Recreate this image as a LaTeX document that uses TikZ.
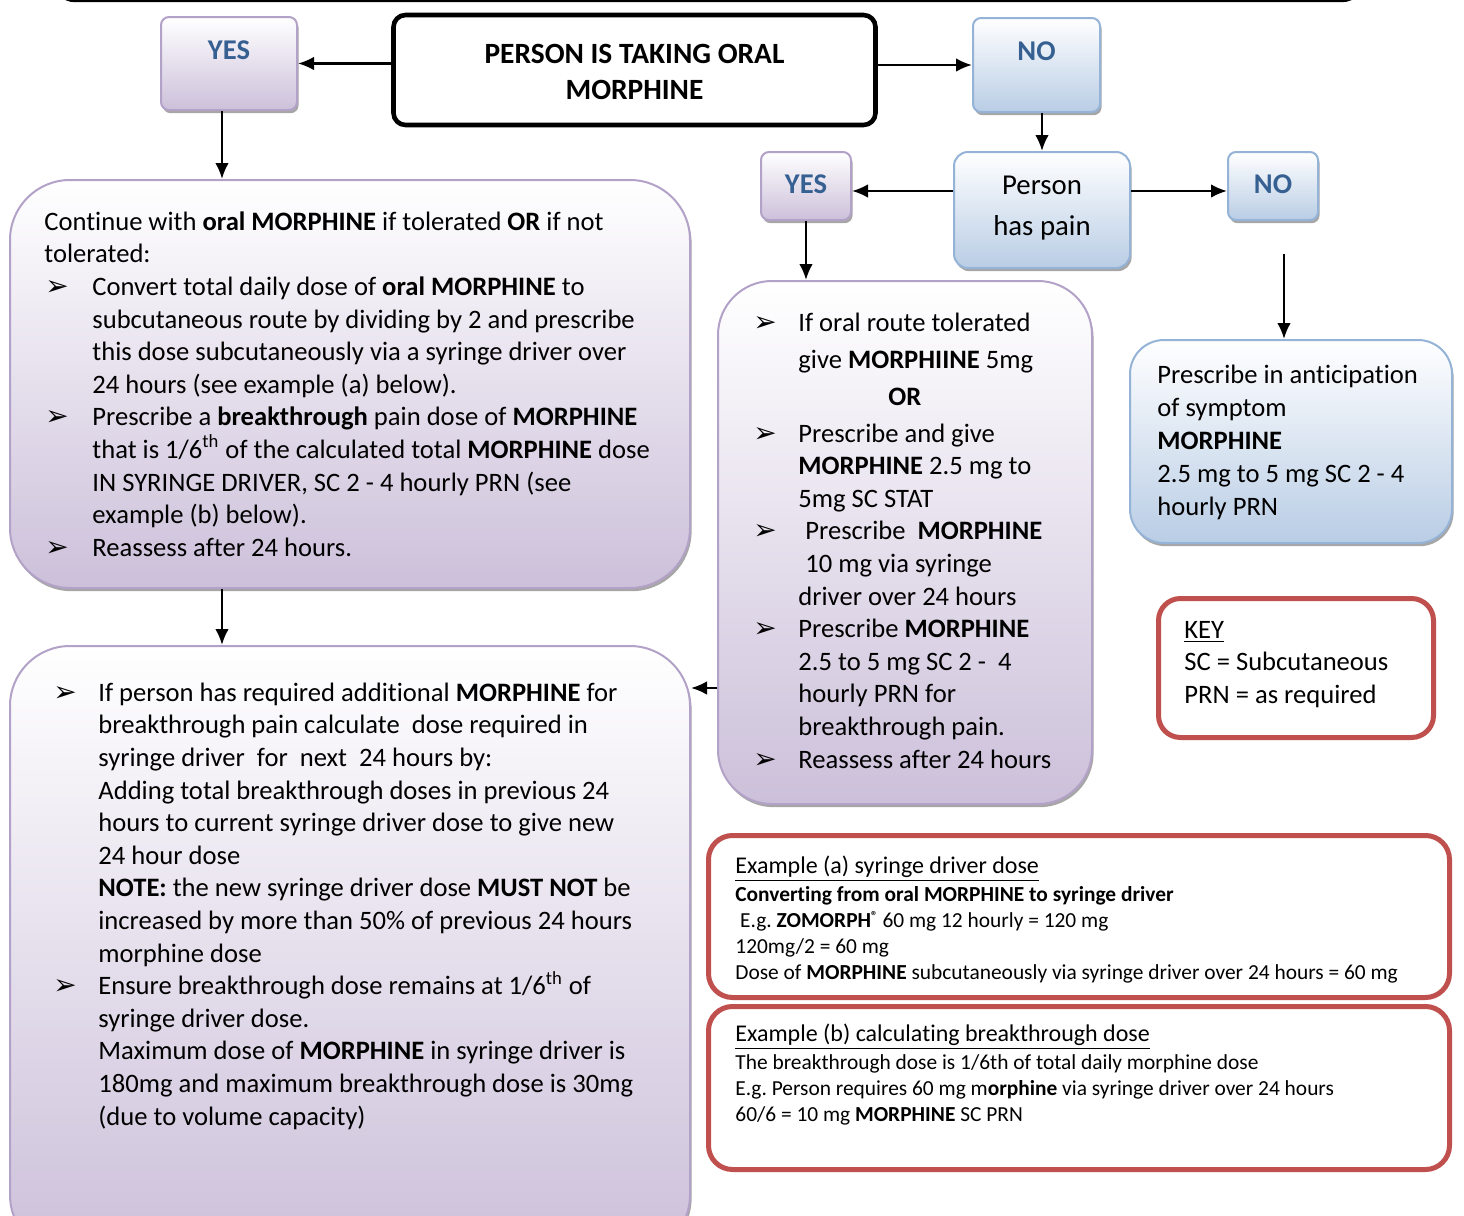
\documentclass[tikz,border=0pt]{standalone}
\usepackage{fontspec}
\setmainfont{Carlito}[Ligatures=NoCommon]
\newfontfamily\dejavu{DejaVu Sans}
\usetikzlibrary{arrows.meta,shadows}
\definecolor{purpB}{RGB}{179,162,199}
\definecolor{purpF}{RGB}{204,192,218}
\definecolor{blueB}{RGB}{149,179,215}
\definecolor{blueF}{RGB}{185,205,229}
\definecolor{redB}{RGB}{192,80,77}
\definecolor{ynblue}{RGB}{55,96,146}
\newcommand\arrowglyph{{\dejavu\fontsize{14}{14}\selectfont ➢}}
\newcommand\myb[1]{\makebox[#1][l]{\hspace{0.5pt}\arrowglyph}}
\newcommand\myi[1]{\hspace*{#1}}
\newcommand\regmark{\raisebox{3.5pt}{\fontsize{6.5}{6.5}\selectfont\bfseries ®}}
\frenchspacing
\tikzset{
  shad/.style={drop shadow={shadow xshift=0.8pt,shadow yshift=-1.6pt,opacity=0.35,fill=black}},
  pbox/.style={draw=purpB, line width=1pt, top color=white, bottom color=purpF, shad},
  bbox/.style={draw=blueB, line width=1pt, top color=white, bottom color=blueF, shad},
  rbox/.style={draw=redB, line width=2.5pt, fill=white},
  tbox/.style={draw=black, line width=2.3pt, rounded corners=6pt, fill=white},
  arr/.style={line width=1.1pt, -{Latex[length=8pt,width=6.8pt]}},
  yn/.style={font=\fontsize{14.3}{17}\selectfont\bfseries, text=ynblue},
  body/.style={font=\fontsize{13.3}{16.3}\selectfont, align=left, inner sep=0pt, anchor=west},
  exbody/.style={font=\fontsize{10.7}{13}\selectfont, align=left, inner sep=0pt, anchor=west},
}
\begin{document}
\begin{tikzpicture}[x=0.5pt,y=-0.5pt]
\useasboundingbox (0,0) rectangle (1464,1216);
\begin{scope}
\clip (0,0) rectangle (1464,1216);
% partial frame at top
\draw[line width=2.2pt, rounded corners=10pt] (55,-40) -- (55,0) -- (1362,0) -- (1362,-40);

% boxes
\node[pbox, rounded corners=4pt, minimum width=68pt, minimum height=46.5pt, yn] (yes1) at (229,63.5) {\raisebox{2.15pt}[0pt][0pt]{YES}};
\node[tbox, minimum width=241pt, minimum height=55pt] (title) at (634.5,70) {};
\node[font=\fontsize{14.7}{18}\selectfont\bfseries, align=center, inner sep=0pt] (titletext) at (634.5,72) {PERSON IS TAKING ORAL\\MORPHINE};
\node[bbox, rounded corners=4pt, minimum width=63.5pt, minimum height=47pt, yn] (no1) at (1036.5,65) {\raisebox{2.4pt}[0pt][0pt]{NO}};
\node[bbox, rounded corners=7pt, minimum width=88pt, minimum height=58pt] (pain) at (1042,210) {};
\node[font=\fontsize{14.4}{20.5}\selectfont, align=center, inner sep=0pt] (paintext) at (1042,208) {Person\\has pain};
\node[pbox, rounded corners=4pt, minimum width=45pt, minimum height=34pt, yn] (yes2) at (806,186) {\raisebox{-3.6pt}[0pt][0pt]{YES}};
\node[bbox, rounded corners=4pt, minimum width=45pt, minimum height=34pt, yn] (no2) at (1273,186) {\raisebox{-3.6pt}[0pt][0pt]{NO}};

\node[pbox, rounded corners=30pt, minimum width=340pt, minimum height=204pt] (left1) at (350,384) {};
\node[body] (left1text) at (44,384) {%
Continue with \textbf{oral MORPHINE} if tolerated \textbf{OR} if not\\
tolerated:\\
\myb{24pt}Convert total daily dose of \textbf{oral MORPHINE} to\\
\myi{24pt}subcutaneous route by dividing by 2 and prescribe\\
\myi{24pt}this dose subcutaneously via a syringe driver over\\
\myi{24pt}24 hours (see example (a) below).\\
\myb{24pt}Prescribe a \textbf{breakthrough} pain dose of \textbf{MORPHINE}\\
\myi{24pt}that is 1/6\textsuperscript{th} of the calculated total \textbf{MORPHINE} dose\\
\myi{24pt}IN SYRINGE DRIVER, SC 2 - 4 hourly PRN (see\\
\myi{24pt}example (b) below).\\
\myb{24pt}Reassess after 24 hours.};

\node[pbox, rounded corners=30pt, minimum width=340pt, minimum height=304.5pt] (left2) at (350,950.5) {};
\node[body] (left2text) at (52,906) {%
\myb{23pt}If person has required additional \textbf{MORPHINE} for\\
\myi{23pt}breakthrough pain calculate\ \ dose required in\\
\myi{23pt}syringe driver\ \ for\ \ next\ \ 24 hours by:\\
\myi{23pt}Adding total breakthrough doses in previous 24\\
\myi{23pt}hours to current syringe driver dose to give new\\
\myi{23pt}24 hour dose\\
\myi{23pt}\textbf{NOTE:} the new syringe driver dose \textbf{MUST NOT} be\\
\myi{23pt}increased by more than 50\% of previous 24 hours\\
\myi{23pt}morphine dose\\
\myb{23pt}Ensure breakthrough dose remains at 1/6\textsuperscript{th} of\\
\myi{23pt}syringe driver dose.\\
\myi{23pt}Maximum dose of \textbf{MORPHINE} in syringe driver is\\
\myi{23pt}180mg and maximum breakthrough dose is 30mg\\
\myi{23pt}(due to volume capacity)};

\node[pbox, rounded corners=27pt, minimum width=187pt, minimum height=261.5pt] (mid) at (905,542.5) {};
\node[body] (midtext) at (752,540.5) {%
\myb{23pt}If oral route tolerated\\[2.2pt]
\myi{23pt}give \textbf{MORPHIINE} 5mg\\[2.2pt]
\myi{68pt}\textbf{OR}\\[2.2pt]
\myb{23pt}Prescribe and give\\
\myi{23pt}\textbf{MORPHINE} 2.5 mg to\\
\myi{23pt}5mg SC STAT\\
\myb{23pt}\hspace{3.5pt}Prescribe\ \ \textbf{MORPHINE}\\
\myi{26.5pt}10 mg via syringe\\
\myi{23pt}driver over 24 hours\\
\myb{23pt}Prescribe \textbf{MORPHINE}\\
\myi{23pt}2.5 to 5 mg SC 2 -\ \ 4\\
\myi{23pt}hourly PRN for\\
\myi{23pt}breakthrough pain.\\
\myb{23pt}Reassess after 24 hours};

\node[bbox, rounded corners=17pt, minimum width=161pt, minimum height=101.5pt] (presc) at (1291,441.5) {};
\node[body, font=\fontsize{13.3}{16.4}\selectfont] (presctext) at (1157,442.5) {%
Prescribe in anticipation\\
of symptom\\
\textbf{MORPHINE}\\
2.5 mg to 5 mg SC 2 - 4\\
hourly PRN};

\node[rbox, rounded corners=11pt, minimum width=137.5pt, minimum height=69.5pt] (key) at (1296,668) {};
\node[body, font=\fontsize{13.3}{16.25}\selectfont] (keytext) at (1184,664.5) {%
\underline{KEY}\\
SC = Subcutaneous\\
PRN = as required};

\node[rbox, rounded corners=12pt, minimum width=370.5pt, minimum height=81pt] (exa) at (1079,916.5) {};
\node[exbody] (exatext) at (735,920) {%
{\fontsize{12}{13}\selectfont\underline{Example (a) syringe driver dose}}\\[1pt]
\textbf{Converting from oral MORPHINE to syringe driver}\\
\ E.g. \textbf{ZOMORPH}\regmark{} 60 mg 12 hourly = 120 mg\\
120mg/2 = 60 mg\\
Dose of \textbf{MORPHINE} subcutaneously via syringe driver over 24 hours = 60 mg};

\node[rbox, rounded corners=12pt, minimum width=370.5pt, minimum height=81.5pt] (exb) at (1079,1088) {};
\node[exbody] (exbtext) at (735,1075) {%
{\fontsize{12}{13}\selectfont\underline{Example (b) calculating breakthrough dose}}\\[1pt]
The breakthrough dose is 1/6th of total daily morphine dose\\
E.g. Person requires 60 mg m\textbf{orphine} via syringe driver over 24 hours\\
60/6 = 10 mg \textbf{MORPHINE} SC PRN};

% connectors
\coordinate (ax) at (222,0);
\coordinate (nofree) at (1284,254);
\draw[arr] (title.west |- yes1.east) -- (yes1.east);
\draw[arr] (title.east |- no1.west) -- (no1.west);
\draw[arr] (yes1.south -| ax) -- (left1.north -| ax);
\draw[arr] (pain.north |- no1.south) -- (pain.north);
\draw[arr] (pain.west |- 0,191) -- (yes2.east |- 0,191);
\draw[arr] (pain.east |- 0,191) -- (no2.west |- 0,191);
\draw[arr] (yes2.south) -- (yes2.south |- mid.north);
\draw[arr] (nofree) -- (nofree |- presc.north);
\draw[arr] (left1.south -| ax) -- (left2.north -| ax);
\draw[arr] (mid.west |- 0,688) -- (left2.east |- 0,688);
\end{scope}
\end{tikzpicture}
\end{document}
